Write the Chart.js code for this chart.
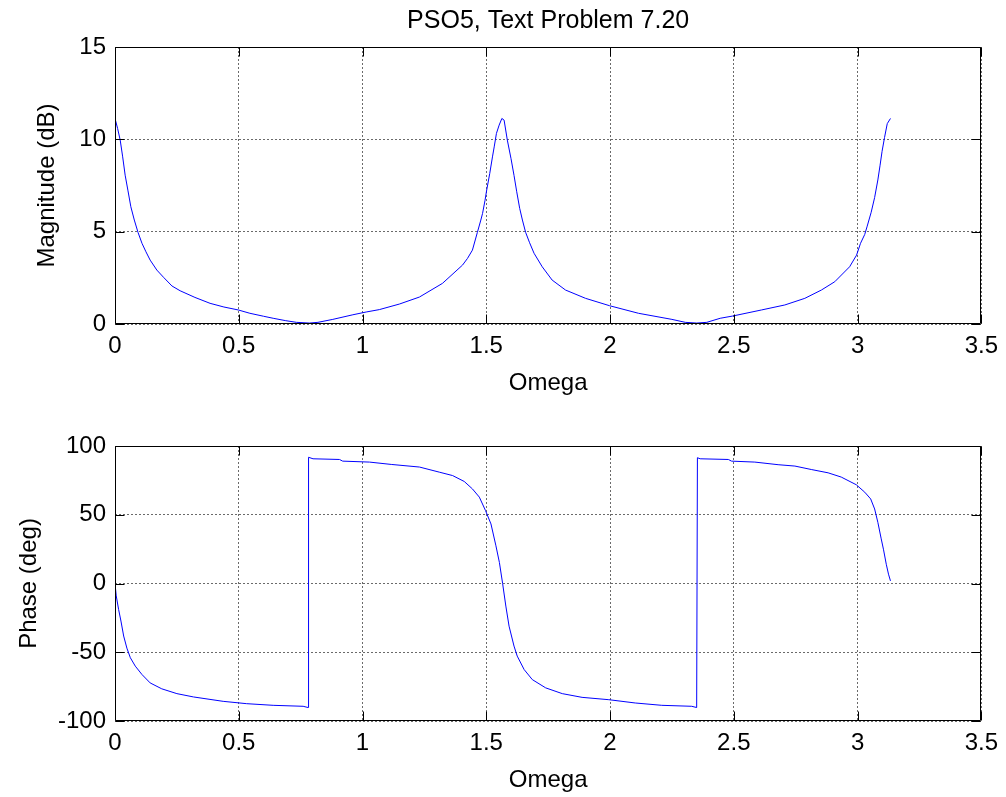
<!DOCTYPE html>
<html>
<head>
<meta charset="utf-8">
<title>PSO5, Text Problem 7.20</title>
<script src="https://cdn.jsdelivr.net/npm/chart.js@4.4.1/dist/chart.umd.min.js"></script>
<style>
  html, body { margin: 0; padding: 0; background: #fff; }
  #wrap { position: relative; width: 1006px; height: 797px; }
  #wrap canvas { position: absolute; left: 0; }
  #mag { top: 0; }
  #phase { top: 400px; }
</style>
</head>
<body>
<div id="wrap">
  <canvas id="mag" width="1006" height="400"></canvas>
  <canvas id="phase" width="1006" height="397"></canvas>
</div>
<script>
const omegaTicks = [0, 0.5, 1, 1.5, 2, 2.5, 3, 3.5];
const magTicks = [0, 5, 10, 15];
const phaseTicks = [-100, -50, 0, 50, 100];

// magnitude curve
const omegaMag = [0, 0.0105, 0.021, 0.031, 0.041, 0.052, 0.064, 0.078, 0.093, 0.109,
  0.125, 0.142, 0.169, 0.196, 0.23, 0.263, 0.323, 0.384, 0.44, 0.498,
  0.545, 0.6, 0.639, 0.69, 0.733, 0.785, 0.82, 0.88, 0.961, 1.015,
  1.068, 1.149, 1.23, 1.323, 1.404, 1.424, 1.444, 1.464, 1.478, 1.485,
  1.495, 1.501, 1.514, 1.525, 1.532, 1.541, 1.552, 1.563, 1.572, 1.585,
  1.6, 1.612, 1.623, 1.635, 1.646, 1.659, 1.675, 1.693, 1.726, 1.766,
  1.82, 1.901, 1.998, 2.115, 2.25, 2.304, 2.35, 2.391, 2.445, 2.495,
  2.612, 2.706, 2.787, 2.854, 2.908, 2.968, 2.996, 3.012, 3.029, 3.039,
  3.055, 3.069, 3.082, 3.091, 3.099, 3.109, 3.12, 3.133];
const magDb = [11.13, 10.59, 9.96, 9.05, 8.06, 7.25, 6.35, 5.63, 4.96, 4.37,
  3.91, 3.46, 2.92, 2.53, 2.06, 1.80, 1.44, 1.12, 0.92, 0.76,
  0.58, 0.42, 0.31, 0.18, 0.09, 0.05, 0.09, 0.25, 0.5, 0.65,
  0.78, 1.08, 1.46, 2.2, 3.19, 3.55, 4.0, 4.96, 5.63, 5.99,
  6.7, 7.2, 8.15, 9.05, 9.59, 10.32, 10.77, 11.13, 11.04, 9.96,
  8.95, 8.05, 7.16, 6.26, 5.63, 4.96, 4.4, 3.83, 3.1, 2.38,
  1.84, 1.39, 0.99, 0.58, 0.25, 0.09, 0.05, 0.09, 0.31, 0.43,
  0.76, 1.03, 1.39, 1.84, 2.29, 3.1, 3.73, 4.37, 4.85, 5.3,
  6.05, 6.85, 7.8, 8.6, 9.35, 10.1, 10.85, 11.13];

// phase curve
const omegaPhase = [0, 0.005, 0.0145, 0.024, 0.035, 0.048, 0.062, 0.082, 0.109, 0.142,
  0.189, 0.25, 0.317, 0.437, 0.532, 0.639, 0.76, 0.78, 0.782, 0.8,
  0.907, 0.92, 1.028, 1.116, 1.23, 1.31, 1.364, 1.411, 1.444, 1.472,
  1.497, 1.519, 1.539, 1.553, 1.566, 1.579, 1.592, 1.612, 1.625, 1.653,
  1.686, 1.74, 1.807, 1.887, 1.995, 2.102, 2.209, 2.33, 2.35, 2.353,
  2.364, 2.478, 2.491, 2.585, 2.679, 2.747, 2.813, 2.881, 2.934, 2.995,
  3.029, 3.053, 3.069, 3.082, 3.095, 3.105, 3.116, 3.125, 3.133];
const phaseDeg = [0, -9, -18.8, -27.3, -38.2, -47, -54, -60.1, -66.2, -72.3,
  -76.6, -80.1, -82.5, -85.7, -87.4, -88.6, -89.3, -90.2, 91.8, 90.7,
  90.2, 89, 88.3, 86.6, 84.7, 81, 78.5, 74.2, 68.8, 62.8,
  53, 43.3, 27.4, 15.3, 0, -16.4, -31, -45.5, -52.8, -62.6,
  -69.9, -75.9, -80.1, -82.8, -84.5, -86.9, -88.6, -89.3, -90.2, 91.5,
  90.7, 90.2, 89, 88.3, 86.4, 85.4, 82.9, 80.5, 77.4, 71.8,
  66.4, 61.5, 54.2, 44.5, 33, 24.5, 14, 6.8, 1.9];

Chart.defaults.font.family = '"Liberation Sans", Arial, sans-serif';
Chart.defaults.font.size = 24;
Chart.defaults.color = '#000';

function points(xs, ys) {
    return xs.map((x, i) => ({x: x, y: ys[i]}));
}

// matlab style box, ticks pointing inward on all four sides
const boxTicks = {
    id: 'boxTicks',
    afterDatasetsDraw(chart) {
        const {ctx, chartArea} = chart;
        const sx = chart.scales.x, sy = chart.scales.y;
        const len = 9;
        const L = Math.round(chartArea.left) + 0.5;
        const R = Math.round(chartArea.right) - 0.5;
        const T = Math.round(chartArea.top) + 0.5;
        const B = Math.round(chartArea.bottom) - 0.5;
        ctx.save();
        ctx.strokeStyle = '#000';
        ctx.lineWidth = 1;
        ctx.beginPath();
        ctx.rect(L, T, R - L, B - T);
        sx.ticks.forEach(t => {
            const px = Math.round(sx.getPixelForValue(t.value)) + 0.5;
            ctx.moveTo(px, B); ctx.lineTo(px, B - len);
            ctx.moveTo(px, T); ctx.lineTo(px, T + len);
        });
        sy.ticks.forEach(t => {
            const py = Math.round(sy.getPixelForValue(t.value)) + 0.5;
            ctx.moveTo(L, py); ctx.lineTo(L + len, py);
            ctx.moveTo(R, py); ctx.lineTo(R - len, py);
        });
        ctx.stroke();
        ctx.restore();
    }
};

const gridStyle = { color: '#6a6a6a', lineWidth: 1, drawTicks: false };
const borderStyle = { display: false, dash: [2, 2] };

function omegaAxis() {
    return {
        type: 'linear',
        min: omegaTicks[0],
        max: omegaTicks[omegaTicks.length - 1],
        afterBuildTicks: s => { s.ticks = omegaTicks.map(v => ({value: v})); },
        afterFit: s => { s.height = 76; },
        grid: gridStyle,
        border: borderStyle,
        ticks: { padding: 8, autoSkip: false, maxRotation: 0, callback: v => String(v) },
        title: { display: true, text: 'Omega', padding: {top: 0, bottom: 2} }
    };
}

function valueAxis(tickVals, label, titlePad) {
    return {
        type: 'linear',
        min: tickVals[0],
        max: tickVals[tickVals.length - 1],
        afterBuildTicks: s => { s.ticks = tickVals.map(v => ({value: v})); },
        afterFit: s => { s.width = 115; },
        grid: gridStyle,
        border: borderStyle,
        ticks: { padding: 9, callback: v => String(v) },
        title: { display: true, text: label, padding: {top: titlePad, bottom: 0} }
    };
}

function lineData(xs, ys) {
    return {
        datasets: [{
            data: points(xs, ys),
            borderColor: '#0000ff',
            borderWidth: 1,
            pointRadius: 0,
            tension: 0,
            fill: false
        }]
    };
}

new Chart(document.getElementById('mag'), {
    type: 'line',
    data: lineData(omegaMag, magDb),
    options: {
        responsive: false,
        animation: false,
        layout: { padding: {left: 0, right: 23, top: 0, bottom: 0} },
        scales: {
            x: omegaAxis(),
            y: valueAxis(magTicks, 'Magnitude (dB)', 33)
        },
        plugins: {
            legend: { display: false },
            tooltip: { enabled: false },
            title: {
                display: true,
                fullSize: false,
                text: 'PSO5, Text Problem 7.20',
                color: '#000',
                font: { size: 25, weight: 'normal' },
                padding: {top: 6, bottom: 11}
            }
        }
    },
    plugins: [boxTicks]
});

new Chart(document.getElementById('phase'), {
    type: 'line',
    data: lineData(omegaPhase, phaseDeg),
    options: {
        responsive: false,
        animation: false,
        layout: { padding: {left: 0, right: 23, top: 46, bottom: 0} },
        scales: {
            x: omegaAxis(),
            y: valueAxis(phaseTicks, 'Phase (deg)', 15)
        },
        plugins: {
            legend: { display: false },
            tooltip: { enabled: false }
        }
    },
    plugins: [boxTicks]
});
</script>
</body>
</html>
